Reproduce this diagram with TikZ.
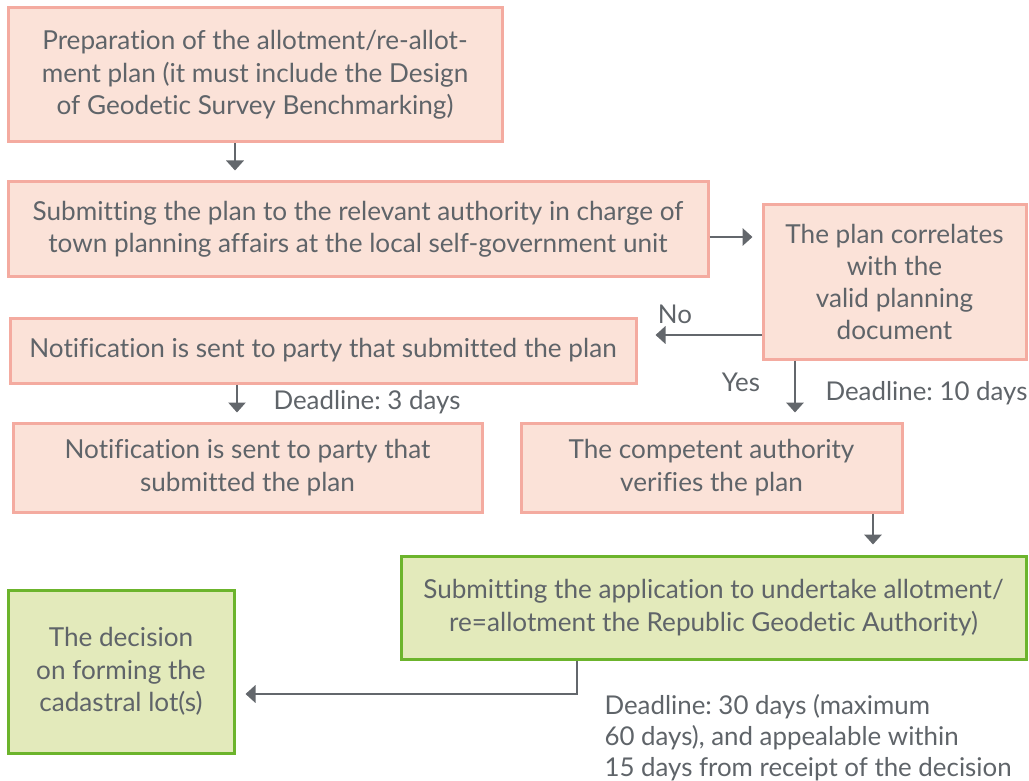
\documentclass[tikz,border=0pt]{standalone}
\usepackage{fontspec}
\setmainfont{Lato}[Ligatures={NoCommon}]
\usetikzlibrary{arrows.meta}
\frenchspacing

\definecolor{pinkfill}{RGB}{251,226,216}
\definecolor{pinkline}{RGB}{244,171,160}
\definecolor{greenfill}{RGB}{227,234,187}
\definecolor{greenline}{RGB}{108,180,44}
\definecolor{txtgray}{RGB}{95,100,105}
\definecolor{arrgray}{RGB}{99,103,108}

\tikzset{every picture/.style={line width=0.75pt}}
\tikzset{
  pinkbox/.style={draw=pinkline,fill=pinkfill,line width=2.25pt,inner sep=0pt,
    align=center,text=txtgray,font=\fontsize{19.6}{24.2}\selectfont},
  greenbox/.style={pinkbox,draw=greenline,fill=greenfill},
  arr/.style={draw=arrgray,line width=1.9pt,-{Triangle[width=13pt,length=7.5pt]}},
  note/.style={text=txtgray,font=\fontsize{19.4}{23.3}\selectfont,inner sep=0pt}
}

\begin{document}
\begin{tikzpicture}[x=0.75pt,y=0.75pt,yscale=-1,xscale=1]
\path[use as bounding box] (0,0) rectangle (1029,781);

%Boxes
\node[pinkbox,minimum width=370.5pt,minimum height=100.5pt] (prep) at (255,75) {Preparation of the allotment/re-allot-\\ment plan (it must include the Design\\of Geodetic Survey Benchmarking)};
\node[pinkbox,minimum width=525pt,minimum height=71.25pt] (submit) at (358,229.5) {Submitting the plan to the relevant authority in charge of\\town planning affairs at the local self-government unit};
\node[pinkbox,minimum width=197.25pt,minimum height=115.5pt] (correl) at (894.5,282) {The plan correlates\\with the\\valid planning\\document};
\node[pinkbox,minimum width=469.5pt,minimum height=48.75pt] (notif) at (323,350.5) {Notification is sent to party that submitted the plan};
\node[pinkbox,minimum width=351.75pt,minimum height=66.75pt] (notiftwo) at (247.5,467.5) {Notification is sent to party that\\submitted the plan};
\node[pinkbox,minimum width=285.75pt,minimum height=66.75pt] (verify) at (711.5,467.5) {The competent authority\\verifies the plan};
\node[greenbox,minimum width=468.75pt,minimum height=77.25pt] (apply) at (713.5,607.5) {Submitting the application to undertake allotment/\\re=allotment the Republic Geodetic Authority)};
\node[greenbox,minimum width=169.5pt,minimum height=122.25pt] (decis) at (121,671.5) {The decision\\on forming the\\cadastral lot(s)};

%Connectors
\coordinate (colA) at (235,0);
\coordinate (rowB) at (0,237);
\coordinate (rowNo) at (0,335);
\coordinate (colYes) at (795,0);
\coordinate (colD) at (237,0);
\coordinate (colF) at (873,0);
\coordinate (gturn) at (577,694);
\draw[arr,shorten >=7.5pt] (prep.south -| colA) -- (submit.north -| colA);
\draw[arr,shorten >=6.75pt] (submit.east |- rowB) -- (correl.west |- rowB);
\draw[arr,shorten >=13.5pt] (correl.west |- rowNo) -- (notif.east |- rowNo);
\draw[arr,shorten >=6.75pt] (correl.south -| colYes) -- (verify.north -| colYes);
\draw[arr,line width=1.2pt,shorten >=6.75pt] (notif.south -| colD) -- (notiftwo.north -| colD);
\draw[arr,shorten >=7.5pt] (verify.south -| colF) -- (apply.north -| colF);
\draw[arr,shorten >=7.5pt] (apply.south -| gturn) -- (gturn) -- (gturn -| decis.east);

%Labels
\node[note] (nolab) at (675,314) {No};
\node[note] (yeslab) at (741,382) {Yes};
\node[note,anchor=west] (dl10) at (825,393) {Deadline: 10 days};
\node[note,anchor=west] (dl3) at (273,402) {Deadline: 3 days};
\node[note,anchor=north west,align=left] (dl30) at (604,694) {Deadline: 30 days (maximum\\60 days), and appealable within\\15 days from receipt of the decision};

\end{tikzpicture}
\end{document}
